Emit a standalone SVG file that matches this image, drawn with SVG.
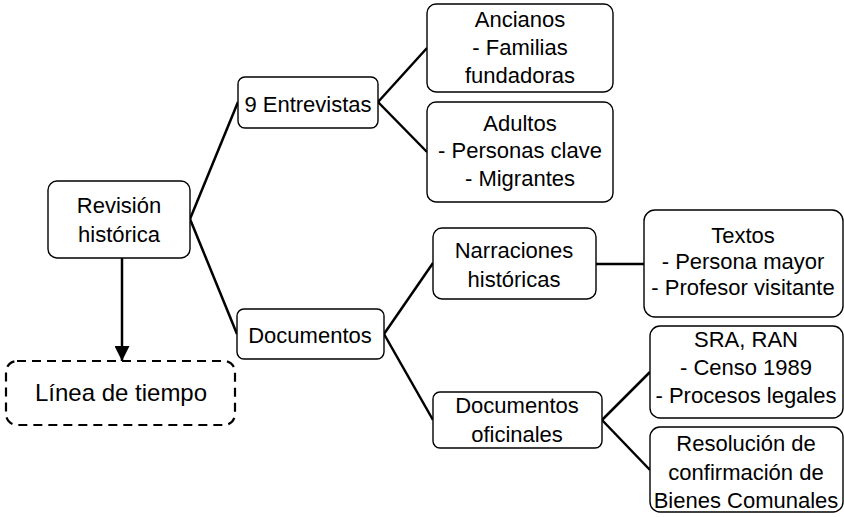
<svg xmlns="http://www.w3.org/2000/svg" width="844" height="517" viewBox="0 0 844 517">
<style>
.box{fill:#fff;stroke:#000;stroke-width:1.4}
.dash{fill:#fff;stroke:#000;stroke-width:2.2;stroke-dasharray:9,6}
.t{font-family:"Liberation Sans",Arial,sans-serif;font-size:22px;fill:#000;text-anchor:middle}
.big{font-size:24px}
.c{stroke:#000;stroke-width:2.5;fill:none}
</style>
<defs>
<marker id="arr" viewBox="0 0 10 10" refX="10" refY="5" markerWidth="15" markerHeight="15" orient="auto" markerUnits="userSpaceOnUse">
<path d="M0,0 L10,5 L0,10 Z" fill="#000"/>
</marker>
</defs>
<rect width="844" height="517" fill="#fff"/>
<g id="connectors">
<line class="c" x1="190" y1="219" x2="238" y2="102"/>
<line class="c" x1="190" y1="219" x2="237" y2="334"/>
<line class="c" x1="378" y1="102" x2="427" y2="48"/>
<line class="c" x1="378" y1="102" x2="427" y2="152"/>
<line class="c" x1="384" y1="334" x2="433" y2="263"/>
<line class="c" x1="384" y1="334" x2="433" y2="420"/>
<line class="c" x1="596" y1="264" x2="644" y2="264"/>
<line class="c" x1="602" y1="420" x2="650" y2="372"/>
<line class="c" x1="602" y1="420" x2="650" y2="470"/>
<line class="c" x1="122" y1="258" x2="122" y2="361" marker-end="url(#arr)"/>
</g>
<g id="revision">
<rect class="box" x="48" y="181" width="142" height="77" rx="9"/>
<text class="t" x="119" y="213">Revisión</text>
<text class="t" x="119" y="242">histórica</text>
</g>
<g id="linea">
<rect class="dash" x="6" y="361" width="229" height="64" rx="11"/>
<text class="t big" x="121" y="401">Línea de tiempo</text>
</g>
<g id="entrevistas">
<rect class="box" x="238" y="77" width="140" height="51" rx="7"/>
<text class="t" x="308" y="112">9 Entrevistas</text>
</g>
<g id="ancianos">
<rect class="box" x="427" y="4" width="186" height="88" rx="9"/>
<text class="t" x="520" y="27">Ancianos</text>
<text class="t" x="520" y="55">- Familias</text>
<text class="t" x="520" y="83">fundadoras</text>
</g>
<g id="adultos">
<rect class="box" x="427" y="102" width="186" height="100" rx="9"/>
<text class="t" x="520" y="131">Adultos</text>
<text class="t" x="520" y="158">- Personas clave</text>
<text class="t" x="520" y="186">- Migrantes</text>
</g>
<g id="documentos">
<rect class="box" x="237" y="309" width="147" height="50" rx="7"/>
<text class="t" x="310" y="343">Documentos</text>
</g>
<g id="narraciones">
<rect class="box" x="433" y="228" width="163" height="71" rx="9"/>
<text class="t" x="514" y="258">Narraciones</text>
<text class="t" x="514" y="287">históricas</text>
</g>
<g id="oficinales">
<rect class="box" x="433" y="392" width="169" height="56" rx="7"/>
<text class="t" x="517" y="413">Documentos</text>
<text class="t" x="517" y="442">oficinales</text>
</g>
<g id="textos">
<rect class="box" x="644" y="210" width="199" height="107" rx="11"/>
<text class="t" x="743" y="243">Textos</text>
<text class="t" x="743" y="269">- Persona mayor</text>
<text class="t" x="743" y="295">- Profesor visitante</text>
</g>
<g id="sra">
<rect class="box" x="650" y="326" width="193" height="92" rx="10"/>
<text class="t" x="746" y="347">SRA, RAN</text>
<text class="t" x="746" y="375">- Censo 1989</text>
<text class="t" x="746" y="403">- Procesos legales</text>
</g>
<g id="resolucion">
<rect class="box" x="650" y="427" width="193" height="85" rx="10"/>
<text class="t" x="746" y="451">Resolución de</text>
<text class="t" x="746" y="480">confirmación de</text>
<text class="t" x="746" y="508">Bienes Comunales</text>
</g>
</svg>
